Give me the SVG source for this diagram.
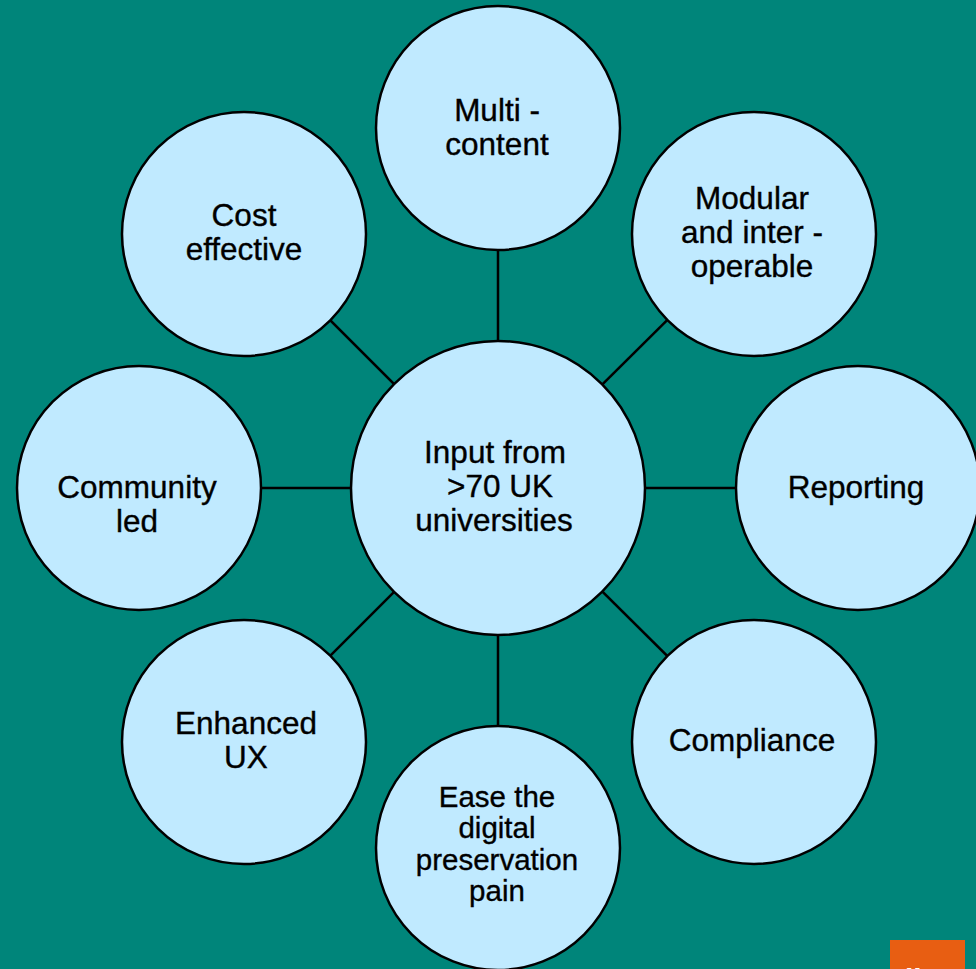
<svg xmlns="http://www.w3.org/2000/svg" width="976" height="969" viewBox="0 0 976 969">
<style>
.bg{fill:#00857A}
.n{fill:#C0EAFF;stroke:#000;stroke-width:2.5}
.c{stroke:#000;stroke-width:2.5;fill:none}
text{font-family:"Liberation Sans",Arial,sans-serif;font-size:31.5px;fill:#000;stroke:#000;stroke-width:0.35;text-anchor:middle}
.s{font-size:29.5px}
</style>
<rect class="bg" x="0" y="0" width="976" height="969"/>
<g id="connectors">
<line class="c" x1="498" y1="488" x2="498" y2="128"/>
<line class="c" x1="498" y1="488" x2="754" y2="234"/>
<line class="c" x1="498" y1="488" x2="858" y2="488"/>
<line class="c" x1="498" y1="488" x2="754" y2="742"/>
<line class="c" x1="498" y1="488" x2="498" y2="848"/>
<line class="c" x1="498" y1="488" x2="244" y2="742"/>
<line class="c" x1="498" y1="488" x2="139" y2="488"/>
<line class="c" x1="498" y1="488" x2="244" y2="234"/>
</g>
<g id="center">
<circle class="n" cx="498" cy="488" r="147"/>
<text x="495" y="463">Input from</text>
<text x="500" y="497">&gt;70 UK</text>
<text x="494" y="531">universities</text>
</g>
<g id="multi">
<circle class="n" cx="498" cy="128" r="122"/>
<text x="497" y="121">Multi -</text>
<text x="497" y="155">content</text>
</g>
<g id="modular">
<circle class="n" cx="754" cy="234" r="122"/>
<text x="752" y="209">Modular</text>
<text x="752" y="243">and inter -</text>
<text x="752" y="277">operable</text>
</g>
<g id="reporting">
<circle class="n" cx="858" cy="488" r="122"/>
<text x="856" y="498">Reporting</text>
</g>
<g id="compliance">
<circle class="n" cx="754" cy="742" r="122"/>
<text x="752" y="751">Compliance</text>
</g>
<g id="ease">
<circle class="n" cx="498" cy="848" r="122"/>
<text class="s" x="497" y="807">Ease the</text>
<text class="s" x="497" y="838">digital</text>
<text class="s" x="497" y="870">preservation</text>
<text class="s" x="497" y="901">pain</text>
</g>
<g id="enhanced">
<circle class="n" cx="244" cy="742" r="122"/>
<text x="246" y="734">Enhanced</text>
<text x="246" y="768">UX</text>
</g>
<g id="community">
<circle class="n" cx="139" cy="488" r="122"/>
<text x="137" y="498">Community</text>
<text x="137" y="532">led</text>
</g>
<g id="cost">
<circle class="n" cx="244" cy="234" r="122"/>
<text x="244" y="226">Cost</text>
<text x="244" y="260">effective</text>
</g>
<g id="logo">
<rect x="890" y="940" width="75" height="29" fill="#E85E12"/>
<text x="905" y="990" style="font-size:30px;font-weight:bold;fill:#fff;stroke:none;text-anchor:start">li</text>
</g>
</svg>
